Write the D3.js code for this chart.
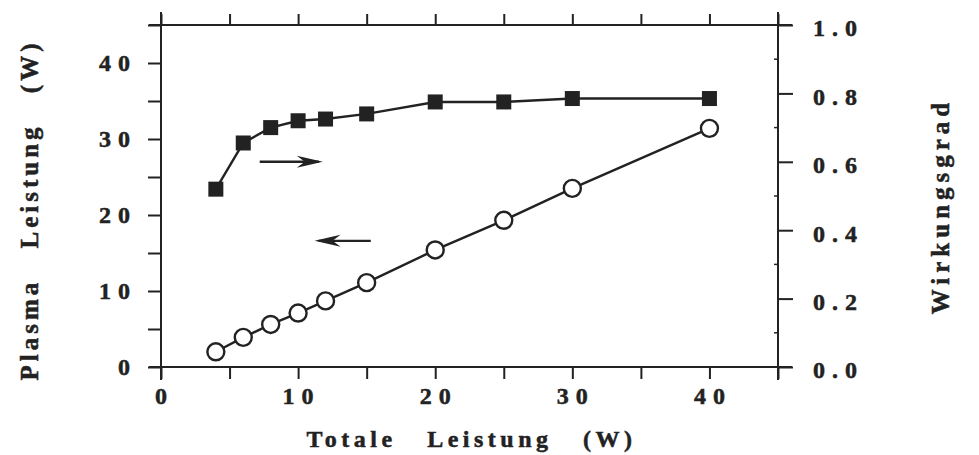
<!DOCTYPE html>
<html>
<head>
<meta charset="utf-8">
<script src="https://cdn.jsdelivr.net/npm/d3@7"></script>
<style>
  body { margin: 0; background: #fff; }
  svg { display: block; }
</style>
</head>
<body>
<div id="chart"></div>
<script>
// ---------------------------------------------------------
// DATA
// ---------------------------------------------------------
var totalPower = [4, 6, 8, 10, 12, 15, 20, 25, 30, 40];
var plasmaPower = [2.0, 3.9, 5.6, 7.1, 8.7, 11.1, 15.4, 19.3, 23.5, 31.4];
var efficiency = [0.52, 0.655, 0.70, 0.72, 0.725, 0.74, 0.775, 0.775, 0.785, 0.785];

var xTicks = [0, 5, 10, 15, 20, 25, 30, 35, 40, 45];
var leftTicks = [0, 5, 10, 15, 20, 25, 30, 35, 40, 45];
var rightTicks = [0, 0.2, 0.4, 0.6, 0.8, 1.0];
var rightMinor = [0.1, 0.3, 0.5, 0.7, 0.9];

// arrows: [x start, x end, y] in data units
var arrowRight = [7.2, 11.8, 0.60];   // on the right axis
var arrowLeft = [15.3, 11.2, 16.6];   // on the left axis

// ---------------------------------------------------------
// SET UP
// ---------------------------------------------------------
var svgWidth = 979;
var svgHeight = 455;

var plot = { left: 161, right: 778, top: 25, bottom: 367 };
var ink = "#222";
var serif = "'Liberation Serif', 'DejaVu Serif', 'Times New Roman', serif";

var svg = d3.select("#chart")
  .append("svg")
  .attr("width", svgWidth)
  .attr("height", svgHeight);

var xScale = d3.scaleLinear().domain([0, 45]).range([plot.left, plot.right]);
var yLeft = d3.scaleLinear().domain([0, 45]).range([plot.bottom, plot.top]);
var yRight = d3.scaleLinear().domain([0, 1]).range([plot.bottom, plot.top]);

// ---------------------------------------------------------
// AXES
// ---------------------------------------------------------
function styleAxis(g) {
  g.attr("font-family", null).attr("font-size", null);
  g.select(".domain").remove();
  g.selectAll(".tick line").attr("stroke", ink).attr("stroke-width", 2);
  g.selectAll(".tick text")
    .attr("fill", ink)
    .attr("stroke", ink)
    .attr("stroke-width", 0.5)
    .style("font-family", serif)
    .style("font-weight", "bold")
    .style("font-size", "24px")
    .style("letter-spacing", "7px");
}

// bottom
svg.append("g")
  .attr("transform", `translate(0, ${plot.bottom})`)
  .call(d3.axisBottom(xScale).tickValues(xTicks).tickSize(12).tickPadding(8)
    .tickFormat(d => (d % 10 === 0 && d < 45) ? d : ""))
  .call(styleAxis)
  .selectAll(".tick text").attr("dx", "3px");

// top (ticks only)
svg.append("g")
  .attr("transform", `translate(0, ${plot.top})`)
  .call(d3.axisTop(xScale).tickValues(xTicks).tickSize(11).tickFormat(""))
  .call(styleAxis);

// left
svg.append("g")
  .attr("transform", `translate(${plot.left}, 0)`)
  .call(d3.axisLeft(yLeft).tickValues(leftTicks).tickSize(13).tickPadding(11)
    .tickFormat(d => (d % 10 === 0 && d < 45) ? d : ""))
  .call(styleAxis);

// right
svg.append("g")
  .attr("transform", `translate(${plot.right}, 0)`)
  .call(d3.axisRight(yRight).tickValues(rightTicks).tickSize(15).tickPadding(20)
    .tickFormat(d3.format(".1f")))
  .call(styleAxis)
  .selectAll(".tick text").attr("dy", "0.45em");

// right minor ticks (inward)
svg.append("g")
  .selectAll("line")
  .data(rightMinor)
  .enter()
  .append("line")
  .attr("x1", plot.right - 4)
  .attr("x2", plot.right)
  .attr("y1", d => yRight(d))
  .attr("y2", d => yRight(d))
  .attr("stroke", ink)
  .attr("stroke-width", 1.5);

// frame lines, extended past the corners
var frame = svg.append("g").attr("stroke", ink).attr("stroke-width", 2);
frame.append("line").attr("x1", plot.left).attr("x2", plot.left).attr("y1", plot.top - 13).attr("y2", plot.bottom + 13);
frame.append("line").attr("x1", plot.right).attr("x2", plot.right).attr("y1", plot.top - 13).attr("y2", plot.bottom + 13);
frame.append("line").attr("x1", plot.left - 12).attr("x2", plot.right + 14).attr("y1", plot.top).attr("y2", plot.top);
frame.append("line").attr("x1", plot.left - 12).attr("x2", plot.right + 14).attr("y1", plot.bottom).attr("y2", plot.bottom);

// ---------------------------------------------------------
// SERIES
// ---------------------------------------------------------
var effLine = d3.line()
  .x((d, i) => xScale(totalPower[i]))
  .y(d => yRight(d));

var plasmaLine = d3.line()
  .x((d, i) => xScale(totalPower[i]))
  .y(d => yLeft(d));

svg.append("path")
  .datum(efficiency)
  .attr("d", effLine)
  .attr("fill", "none")
  .attr("stroke", ink)
  .attr("stroke-width", 2.4);

svg.append("path")
  .datum(plasmaPower)
  .attr("d", plasmaLine)
  .attr("fill", "none")
  .attr("stroke", ink)
  .attr("stroke-width", 2.4);

var sq = 15;
svg.append("g")
  .selectAll("rect")
  .data(efficiency)
  .enter()
  .append("rect")
  .attr("x", (d, i) => xScale(totalPower[i]) - sq / 2)
  .attr("y", d => yRight(d) - sq / 2)
  .attr("width", sq)
  .attr("height", sq)
  .attr("fill", ink);

svg.append("g")
  .selectAll("circle")
  .data(plasmaPower)
  .enter()
  .append("circle")
  .attr("cx", (d, i) => xScale(totalPower[i]))
  .attr("cy", d => yLeft(d))
  .attr("r", 8.5)
  .attr("fill", "#fff")
  .attr("stroke", ink)
  .attr("stroke-width", 2.4);

// ---------------------------------------------------------
// ARROWS
// ---------------------------------------------------------
function drawArrow(x1, x2, y) {
  var dir = x2 > x1 ? 1 : -1;
  svg.append("line")
    .attr("x1", x1).attr("x2", x2 - dir * 4)
    .attr("y1", y).attr("y2", y)
    .attr("stroke", ink)
    .attr("stroke-width", 2.4);
  svg.append("path")
    .attr("d", `M${x2},${y} L${x2 - dir * 26},${y - 6} L${x2 - dir * 18},${y} L${x2 - dir * 26},${y + 6} Z`)
    .attr("fill", ink);
}

drawArrow(xScale(arrowRight[0]), xScale(arrowRight[1]), yRight(arrowRight[2]));
drawArrow(xScale(arrowLeft[0]), xScale(arrowLeft[1]), yLeft(arrowLeft[2]));

// ---------------------------------------------------------
// AXIS TITLES
// ---------------------------------------------------------
function titleText(sel, size, spacing) {
  sel.attr("text-anchor", "middle")
    .attr("fill", ink)
    .attr("stroke", ink)
    .attr("stroke-width", 0.5)
    .style("font-family", serif)
    .style("font-weight", "bold")
    .style("font-size", size + "px")
    .style("letter-spacing", spacing + "px")
    .style("word-spacing", "20px");
}

svg.append("text")
  .attr("x", (plot.left + plot.right) / 2 + 2)
  .attr("y", 447)
  .call(titleText, 24, 4.5)
  .text("Totale Leistung (W)");

svg.append("text")
  .attr("transform", "translate(38, 210) rotate(-90)")
  .call(titleText, 25, 4)
  .text("Plasma Leistung (W)");

svg.append("text")
  .attr("transform", "translate(949, 206) rotate(-90)")
  .call(titleText, 25, 5)
  .text("Wirkungsgrad");
</script>
</body>
</html>
